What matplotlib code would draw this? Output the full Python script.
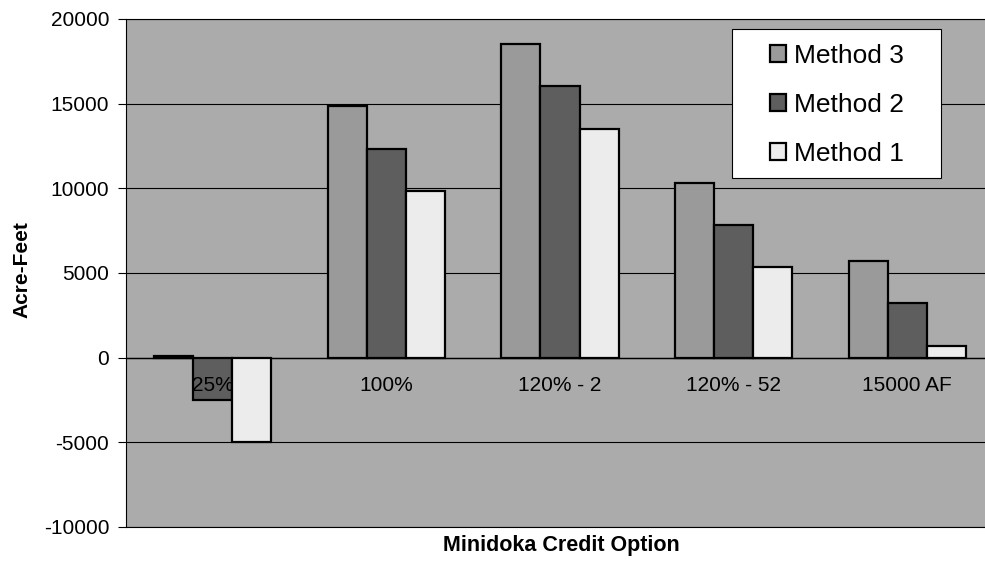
import numpy as np
import matplotlib
matplotlib.use("Agg")
import matplotlib.pyplot as plt
from matplotlib.patches import Rectangle

plt.rcParams["font.family"] = ["Liberation Sans", "DejaVu Sans"]
plt.rcParams["axes.unicode_minus"] = False

# data
categories = ["25%", "100%", "120% - 2", "120% - 52", "15000 AF"]
method3 = [100, 14840, 18500, 10320, 5700]
method2 = [-2500, 12350, 16050, 7830, 3220]
method1 = [-5000, 9830, 13520, 5330, 660]

series = [("Method 3", method3, "#9a9a9a"),
          ("Method 2", method2, "#5e5e5e"),
          ("Method 1", method1, "#ececec")]

W, H = 985, 576
fig = plt.figure(figsize=(W / 100, H / 100), dpi=100)
# the plot area runs a little past the right edge of the picture
ax = fig.add_axes([126 / W, 1 - 527 / H, (994 - 126) / W, (527 - 19) / H])
ax.set_facecolor("#ababab")

x = np.arange(len(categories))
w = 0.225
for i, (name, vals, col) in enumerate(series):
    ax.bar(x + (i - 1) * w, vals, w, color=col, edgecolor="black",
           linewidth=1.6, label=name, zorder=3)

ax.set_xlim(-0.5, len(categories) - 0.5)
ax.set_ylim(-10000, 20000)
ax.set_yticks(np.arange(-10000, 20001, 5000))
ax.yaxis.grid(True, color="black", linewidth=0.8, zorder=1)
ax.set_axisbelow(True)
ax.axhline(0, color="black", linewidth=1.0, zorder=2)

# category labels sit just under the zero line, over the bars
ax.set_xticks([])
for xi, lab in zip(x, categories):
    ax.annotate(lab, (xi, 0), xytext=(0, -13), textcoords="offset points",
                ha="center", va="top", fontsize=15, zorder=5)

ax.tick_params(axis="y", labelsize=15, length=6, width=0.8,
               direction="out", pad=6)
for s in ax.spines.values():
    s.set_color("black")
    s.set_linewidth(0.8)

fig.text(22 / W, 1 - 270 / H, "Acre-Feet", rotation=90, ha="center",
         va="center", fontsize=15, fontweight="bold")
fig.text(561 / W, 1 - 545 / H, "Minidoka Credit Option", ha="center",
         va="center", fontsize=15.5, fontweight="bold")

# legend box
box = Rectangle((732 / W, 1 - 178 / H), 209 / W, 149 / H,
                transform=fig.transFigure, facecolor="white",
                edgecolor="black", linewidth=0.8, zorder=4)
ax.add_patch(box)
box.set_clip_on(False)

handles, labels = ax.get_legend_handles_labels()
leg = ax.legend(handles, labels, loc="upper left",
                bbox_to_anchor=(770 / W, 1 - 44 / H),
                bbox_transform=fig.transFigure,
                fontsize=19, frameon=False,
                handlelength=0.6, handleheight=0.6, handletextpad=0.3,
                labelspacing=0.95, borderpad=0, borderaxespad=0)
leg.set_zorder(6)

fig.savefig("out.png", dpi=100)
